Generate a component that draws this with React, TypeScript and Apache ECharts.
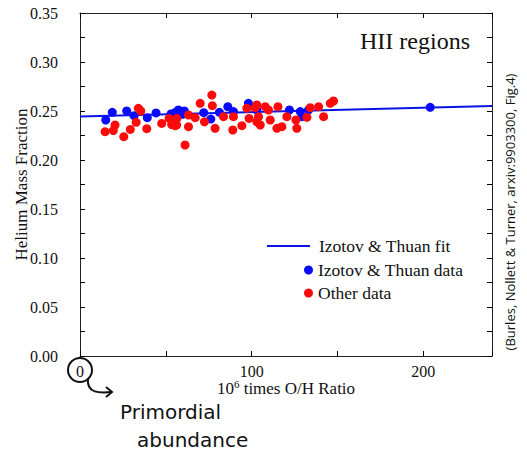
import React, { useEffect, useRef } from "react";
import * as echarts from "echarts";

const fitLine: number[][] = [
  [0, 0.2443],
  [240, 0.2551],
];

const izotovData: number[][] = [
  [15, 0.2408], [18.8, 0.2487], [27.2, 0.25], [31.5, 0.2452], [39.2, 0.2432],
  [44.3, 0.248], [53, 0.247], [55.5, 0.2485], [57.3, 0.251], [58, 0.2475],
  [59.7, 0.2466], [60.8, 0.25], [72.1, 0.2483], [76.2, 0.2418], [81.2, 0.2487],
  [86.1, 0.2544], [89.4, 0.2494], [98.1, 0.2578], [103, 0.251], [122, 0.251],
  [128.3, 0.2494], [129.3, 0.2442], [133.1, 0.251], [204, 0.2538],
];

const otherData: number[][] = [
  [14.6, 0.2289], [19.4, 0.23], [20.4, 0.2357], [25.5, 0.2238], [29.3, 0.2312],
  [32.7, 0.2384], [34, 0.2527], [35.4, 0.25], [38.9, 0.232], [47.6, 0.2373],
  [51.9, 0.2424], [53.4, 0.2362], [56.3, 0.2357], [56.4, 0.2424], [63.2, 0.2459],
  [55.4, 0.235], [63.2, 0.234], [67.1, 0.2432], [72.5, 0.239], [78.7, 0.2323],
  [83.6, 0.2442], [89.4, 0.2442], [89, 0.2306], [94.3, 0.235], [97.2, 0.2527],
  [102, 0.2534], [98.5, 0.2424], [103, 0.239], [61.2, 0.2153], [76.8, 0.2663],
  [70, 0.2578], [77.1, 0.2554], [103, 0.2561], [107.9, 0.2544], [109.8, 0.251],
  [115.3, 0.2544], [104, 0.2442], [105, 0.2357], [110.8, 0.2408], [114.7, 0.2323],
  [117.6, 0.234], [120.5, 0.2442], [125.8, 0.2408], [126.3, 0.2323], [132.2, 0.2435],
  [134.1, 0.2534], [139, 0.2544], [141.9, 0.2442], [145.8, 0.2578], [147.7, 0.2602],
];

const seriesNames = ["Izotov & Thuan fit", "Izotov & Thuan data", "Other data"];
const titleText = "HII regions";
const yAxisTitle = "Helium Mass Fraction";
const creditText = "(Burles, Nollett & Turner, arxiv:9903300, Fig.4)";
const noteLines = ["Primordial", "abundance"];

const SERIF = "Liberation Serif";

const mkTick = () => ({
  show: true,
  inside: true,
  length: 5,
  lineStyle: { color: "#000", width: 1, opacity: 1 },
});
const mkLine = () => ({ show: true, onZero: false, lineStyle: { color: "#222", width: 1 } });

export default function App() {
  const ref = useRef<HTMLDivElement>(null);
  useEffect(() => {
    if (!ref.current) return;
    const chart = echarts.init(ref.current, null, { renderer: "svg" });
    chart.setOption({
      animation: false,
      backgroundColor: "#fff",
      textStyle: { fontFamily: SERIF, color: "#111" },
      title: {
        text: titleText,
        left: 355,
        top: 24,
        textStyle: { fontFamily: SERIF, fontSize: 24, fontWeight: "normal", color: "#111" },
      },
      grid: { left: 80, right: 35, top: 13, bottom: 96, containLabel: false, outerBoundsMode: "none" },
      legend: [
        {
          data: [{ name: seriesNames[0], icon: "rect" }],
          left: 267,
          top: 237,
          padding: 0,
          itemWidth: 43,
          itemHeight: 2,
          itemGap: 0,
          textStyle: { fontFamily: SERIF, fontSize: 17.5, color: "#111", padding: [0, 0, 0, 4] },
        },
        {
          data: [seriesNames[1], seriesNames[2]],
          orient: "vertical",
          left: 304,
          top: 261,
          padding: 0,
          itemGap: 5,
          itemWidth: 9,
          itemHeight: 9,
          textStyle: { fontFamily: SERIF, fontSize: 17.5, color: "#111" },
        },
      ],
      xAxis: [
        {
          type: "value",
          min: 0,
          max: 240,
          interval: 50,
          name: "{b|10}{s|6}{b| times O/H Ratio}",
          nameLocation: "middle",
          nameGap: 22,
          nameMoveOverlap: false,
          nameTextStyle: {
            rich: {
              b: { fontFamily: SERIF, fontSize: 17, color: "#111" },
              s: { fontFamily: SERIF, fontSize: 11, color: "#111", verticalAlign: "top", padding: [0, 0, 10, 0] },
            },
          },
          axisLine: mkLine(),
          axisTick: mkTick(),
          splitLine: { show: false },
          axisLabel: {
            show: true,
            margin: 7,
            fontFamily: SERIF,
            fontSize: 16,
            color: "#111",
            formatter: (v: number) => (v % 100 === 0 ? String(v) : ""),
          },
        },
        {
          type: "value",
          position: "top",
          min: 0,
          max: 240,
          interval: 50,
          axisLine: mkLine(),
          axisTick: mkTick(),
          axisLabel: { show: false },
          splitLine: { show: false },
        },
      ],
      yAxis: [
        {
          type: "value",
          min: 0,
          max: 0.35,
          interval: 0.025,
          name: yAxisTitle,
          nameLocation: "middle",
          nameGap: 50,
          nameMoveOverlap: false,
          nameTextStyle: { fontFamily: SERIF, fontSize: 17, color: "#111" },
          axisLine: mkLine(),
          axisTick: mkTick(),
          splitLine: { show: false },
          axisLabel: {
            show: true,
            margin: 22,
            fontFamily: SERIF,
            fontSize: 16,
            color: "#111",
            formatter: (v: number) =>
              Math.round(v * 1000) % 50 === 0 ? v.toFixed(2) : "",
          },
        },
        {
          type: "value",
          position: "right",
          min: 0,
          max: 0.35,
          interval: 0.025,
          axisLine: mkLine(),
          axisTick: mkTick(),
          axisLabel: { show: false },
          splitLine: { show: false },
        },
      ],
      series: [
        {
          name: seriesNames[0],
          type: "line",
          data: fitLine,
          symbol: "none",
          showSymbol: false,
          lineStyle: { color: "#0a14e6", width: 2 },
          itemStyle: { color: "#0a14e6" },
          z: 1,
        },
        {
          name: seriesNames[1],
          type: "scatter",
          data: izotovData,
          symbol: "circle",
          symbolSize: 9,
          itemStyle: { color: "#0a0aff", opacity: 1 },
          z: 2,
        },
        {
          name: seriesNames[2],
          type: "scatter",
          data: otherData,
          symbol: "circle",
          symbolSize: 9,
          itemStyle: { color: "#ff0a0a", opacity: 1 },
          z: 3,
        },
      ],
      graphic: [
        {
          type: "text",
          x: 510,
          y: 212,
          rotation: Math.PI / 2,
          style: {
            text: creditText,
            fontFamily: "Open Sans",
            fontSize: 13,
            fill: "#111",
            align: "center",
            verticalAlign: "middle",
          },
        },
        {
          type: "ellipse",
          shape: { cx: 80, cy: 370, rx: 12, ry: 12 },
          style: { fill: "none", stroke: "#111", lineWidth: 2 },
        },
        {
          type: "bezierCurve",
          shape: { x1: 88, y1: 378, x2: 112, y2: 392, cpx1: 86, cpy1: 394, cpx2: 100, cpy2: 393 },
          style: { fill: "none", stroke: "#111", lineWidth: 2 },
        },
        {
          type: "polyline",
          shape: { points: [[106, 387], [112, 392], [106, 397]] },
          style: { fill: "none", stroke: "#111", lineWidth: 2 },
        },
        {
          type: "text",
          x: 120,
          y: 412,
          style: {
            text: noteLines[0],
            fontFamily: "DejaVu Sans",
            fontSize: 20,
            fill: "#111",
            verticalAlign: "middle",
          },
        },
        {
          type: "text",
          x: 137,
          y: 440,
          style: {
            text: noteLines[1],
            fontFamily: "DejaVu Sans",
            fontSize: 20,
            fill: "#111",
            verticalAlign: "middle",
          },
        },
      ],
    });
    return () => chart.dispose();
  }, []);
  return (
    <div
      ref={ref}
      style={{ position: "fixed", left: 0, top: 0, width: 527, height: 452, background: "#fff" }}
    />
  );
}
